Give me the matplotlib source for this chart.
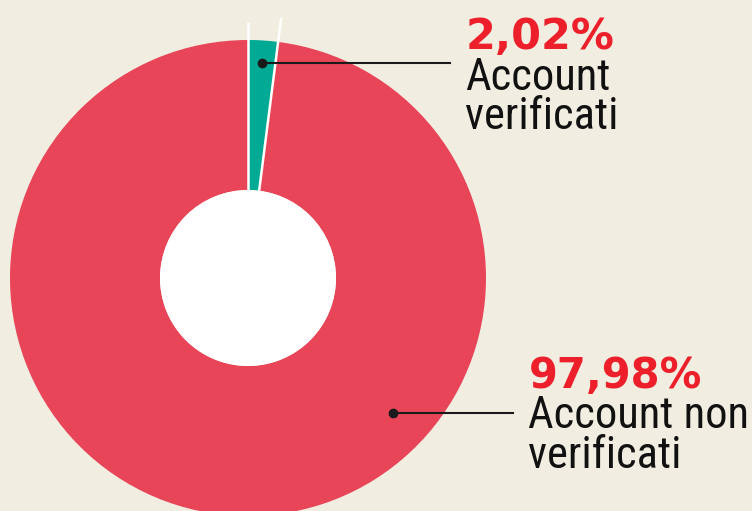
import numpy as np
import matplotlib
matplotlib.use("Agg")
import matplotlib.pyplot as plt
from matplotlib.patches import Circle

# data
labels = ["Account verificati", "Account non verificati"]
shares = [2.02, 97.98]
pct_text = ["2,02%", "97,98%"]
colors = ["#00aa94", "#e84558"]

W, H = 752, 511
bg = "#f1eee1"
cx, cy = 248, H - 278   # donut centre (y measured from bottom)
r_out, r_in = 238, 88

fig = plt.figure(figsize=(W / 100, H / 100), dpi=100, facecolor=bg)
ax = fig.add_axes([0, 0, 1, 1])
ax.set_facecolor(bg)

wedges, _ = ax.pie(shares, colors=colors, startangle=90, counterclock=False,
                   center=(cx, cy), radius=r_out,
                   wedgeprops=dict(width=r_out - r_in, linewidth=0))
ax.add_patch(Circle((cx, cy), r_in, facecolor="white", edgecolor="none", zorder=3))

# white edges of the small slice, a bit longer than the ring
a1 = np.deg2rad(90)
a2 = np.deg2rad(90 - 360 * shares[0] / 100)
for a, rr in [(a1, 256), (a2, 262)]:
    ax.plot([cx + r_in * np.cos(a), cx + rr * np.cos(a)],
            [cy + r_in * np.sin(a), cy + rr * np.sin(a)],
            color="white", lw=1.8, solid_capstyle="butt", zorder=4)

# leader lines
am = (a1 + a2) / 2
d1 = (cx + 215 * np.cos(am), cy + 215 * np.sin(am))
d2 = (393, H - 413)
for (dx, dy), x_end in [(d1, 450), (d2, 513)]:
    ax.plot([dx, x_end], [dy, dy], color="#1a1a1a", lw=1.5, zorder=5)
    ax.plot([dx], [dy], "o", color="#1a1a1a", ms=6, zorder=6)

narrow = ["Roboto Condensed", "DejaVu Sans"]
red = "#ec1f2a"
ink = "#111111"

# label for verified
ax.text(466, H - 49, pct_text[0], color=red, fontsize=31, fontweight="bold",
        family="DejaVu Sans", va="baseline", ha="left")
ax.text(465, H - 90, "Account", color=ink, fontsize=32,
        family=narrow, va="baseline", ha="left")
ax.text(465, H - 129, "verificati", color=ink, fontsize=32,
        family=narrow, va="baseline", ha="left")

# label for non verified
ax.text(529, H - 388, pct_text[1], color=red, fontsize=30, fontweight="bold",
        family="DejaVu Sans", va="baseline", ha="left")
ax.text(528, H - 428, "Account non", color=ink, fontsize=32,
        family=narrow, va="baseline", ha="left")
ax.text(528, H - 468, "verificati", color=ink, fontsize=32,
        family=narrow, va="baseline", ha="left")

ax.set_xlim(0, W)
ax.set_ylim(0, H)
ax.set_aspect("auto")
ax.axis("off")

fig.savefig("out.png", dpi=100, facecolor=bg)
